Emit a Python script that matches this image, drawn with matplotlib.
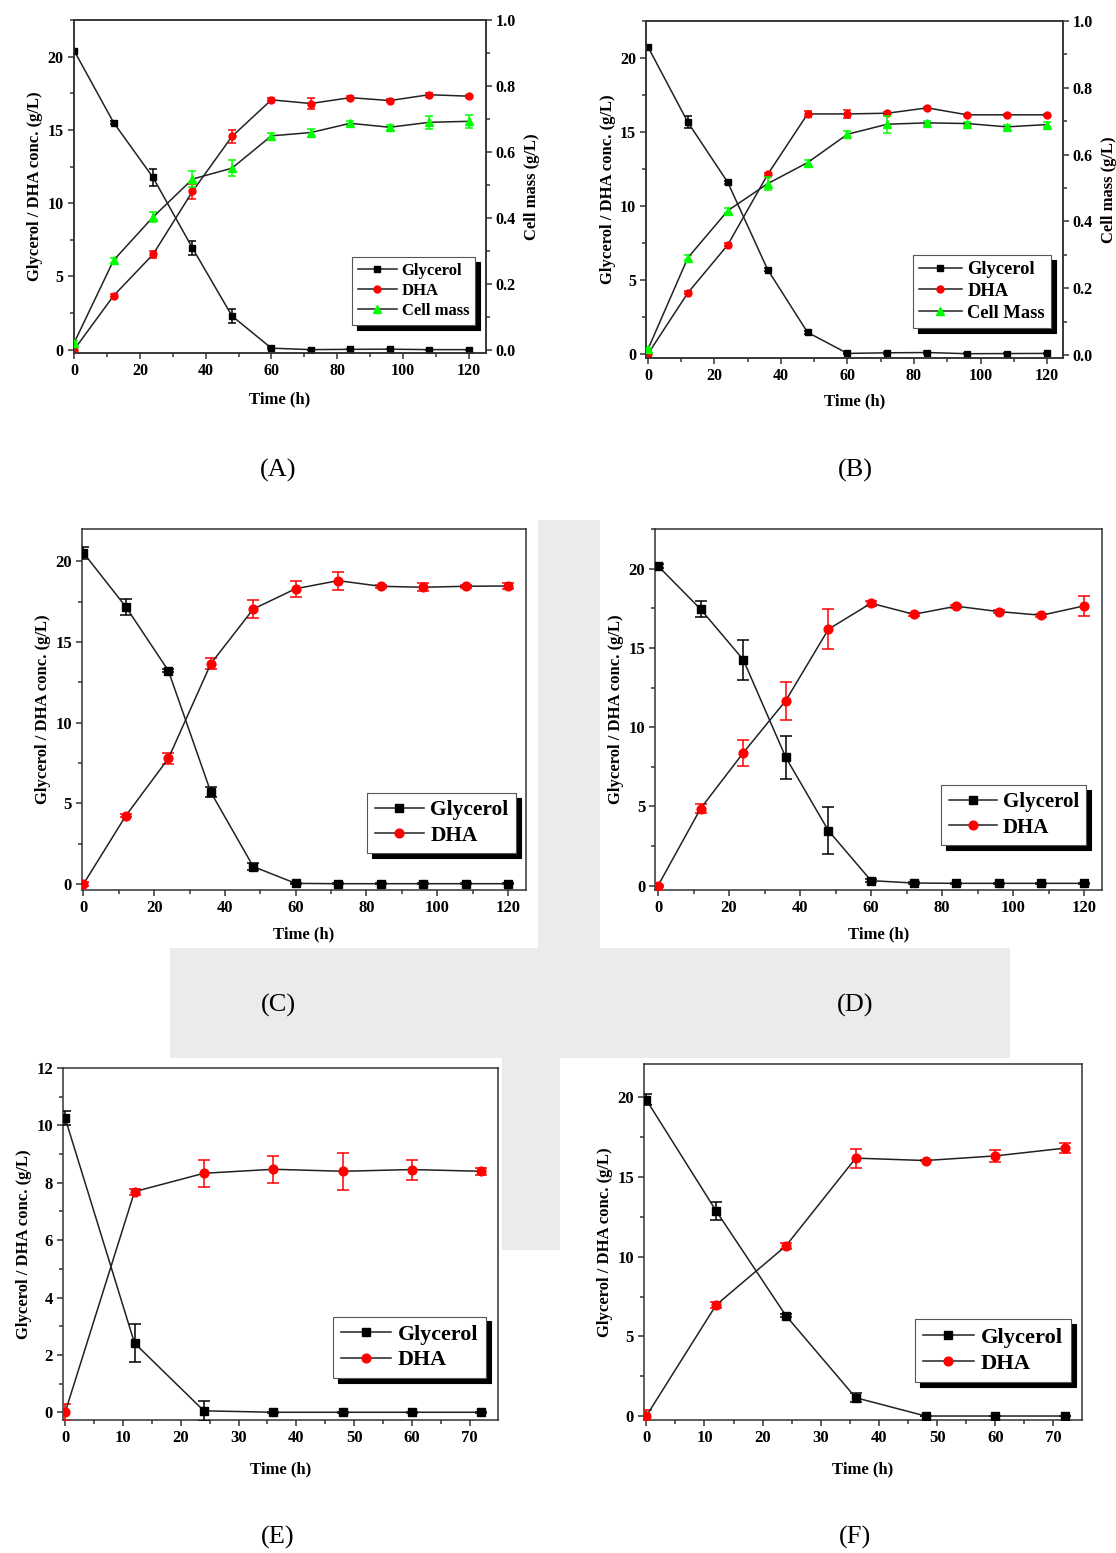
import numpy as np
import matplotlib
matplotlib.use('Agg')
import matplotlib.pyplot as plt
from matplotlib.ticker import MultipleLocator, FormatStrFormatter
from matplotlib.patches import Rectangle

plt.rcParams['font.family'] = ['Liberation Serif', 'DejaVu Serif']
plt.rcParams['font.weight'] = 'bold'
plt.rcParams['axes.labelweight'] = 'bold'

# time points
t_long = [0, 12, 24, 36, 48, 60, 72, 84, 96, 108, 120]
t_short = [0, 12, 24, 36, 48, 60, 72]

# (A)
a_gly = [20.4, 15.5, 11.75, 6.93, 2.3, 0.1, 0.0, 0.02, 0.03, 0.0, 0.0]
a_gly_err = [0.1, 0.1, 0.6, 0.5, 0.5, 0.05, 0, 0, 0, 0, 0]
a_dha = [0.0, 3.68, 6.5, 10.8, 14.55, 17.05, 16.8, 17.2, 17.0, 17.4, 17.3]
a_dha_err = [0.05, 0.1, 0.25, 0.5, 0.45, 0.1, 0.35, 0.1, 0.1, 0.15, 0.1]
a_cell = [0.022, 0.272, 0.403, 0.518, 0.551, 0.649, 0.659, 0.687, 0.675, 0.69, 0.693]
a_cell_err = [0.005, 0.008, 0.015, 0.025, 0.025, 0.008, 0.012, 0.006, 0.008, 0.02, 0.02]

# (B)
b_gly = [20.76, 15.66, 11.6, 5.7, 1.46, 0.04, 0.08, 0.1, 0.02, 0.03, 0.04]
b_gly_err = [0.15, 0.4, 0.1, 0.1, 0.1, 0.05, 0.05, 0.1, 0.02, 0.02, 0.02]
b_dha = [0.0, 4.13, 7.37, 12.13, 16.22, 16.22, 16.27, 16.63, 16.16, 16.16, 16.16]
b_dha_err = [0.05, 0.1, 0.1, 0.1, 0.2, 0.3, 0.1, 0.05, 0.05, 0.05, 0.05]
b_cell = [0.017, 0.291, 0.432, 0.513, 0.576, 0.661, 0.691, 0.695, 0.693, 0.683, 0.69]
b_cell_err = [0.005, 0.008, 0.008, 0.02, 0.008, 0.01, 0.025, 0.005, 0.005, 0.005, 0.008]

# (C)
c_gly = [20.52, 17.17, 13.22, 5.69, 1.08, 0.04, 0.02, 0.02, 0.02, 0.02, 0.02]
c_gly_err = [0.35, 0.5, 0.1, 0.3, 0.2, 0.05, 0.02, 0.02, 0.02, 0.02, 0.02]
c_dha = [0.0, 4.24, 7.78, 13.65, 17.04, 18.3, 18.8, 18.45, 18.39, 18.45, 18.47]
c_dha_err = [0.1, 0.1, 0.35, 0.35, 0.55, 0.5, 0.55, 0.1, 0.25, 0.1, 0.2]

# (D)
d_gly = [20.17, 17.44, 14.26, 8.09, 3.47, 0.32, 0.17, 0.15, 0.15, 0.15, 0.15]
d_gly_err = [0.1, 0.5, 1.27, 1.35, 1.5, 0.1, 0.05, 0.05, 0.05, 0.05, 0.05]
d_dha = [0.0, 4.87, 8.38, 11.68, 16.18, 17.82, 17.12, 17.63, 17.29, 17.06, 17.65]
d_dha_err = [0.05, 0.3, 0.8, 1.2, 1.25, 0.15, 0.1, 0.1, 0.1, 0.1, 0.65]

# (E)
e_gly = [10.25, 2.41, 0.05, 0.0, 0.0, 0.0, 0.0]
e_gly_err = [0.25, 0.65, 0.35, 0.02, 0.02, 0.02, 0.02]
e_dha = [0.0, 7.69, 8.33, 8.47, 8.4, 8.46, 8.4]
e_dha_err = [0.3, 0.1, 0.47, 0.47, 0.65, 0.35, 0.12]

# (F)
f_gly = [19.85, 12.88, 6.3, 1.15, 0.0, 0.0, 0.0]
f_gly_err = [0.35, 0.55, 0.1, 0.3, 0.02, 0.02, 0.02]
f_dha = [0.0, 6.97, 10.68, 16.19, 16.04, 16.33, 16.82]
f_dha_err = [0.4, 0.2, 0.2, 0.6, 0.05, 0.4, 0.3]

W, H = 1116, 1553
fig = plt.figure(figsize=(W / 100, H / 100), dpi=100)

LINE = '#222222'
RED = '#ff0000'
GREEN = '#00ff00'
SPINE = '#333333'
WMARK = '#ebebeb'


def px_rect(left, top, right, bottom):
    return [left / W, 1 - bottom / H, (right - left) / W, (bottom - top) / H]


# faint watermark blocks behind the panels
for l, t, r, b in [(538, 520, 600, 950), (170, 948, 1010, 1058),
                   (502, 1058, 560, 1250)]:
    x0, y0, w, h = px_rect(l, t, r, b)
    fig.patches.append(Rectangle((x0, y0), w, h, transform=fig.transFigure,
                                 facecolor=WMARK, edgecolor='none', zorder=-10))


def style_axis(ax, fs):
    for s in ax.spines.values():
        s.set_linewidth(1.1)
        s.set_color(SPINE)
    ax.tick_params(which='major', direction='out', length=4.5, width=1.1,
                   labelsize=fs, color=SPINE, pad=2.5)
    ax.tick_params(which='minor', direction='out', length=3, width=1.1, color=SPINE)
    ax.tick_params(top=False, right=False, which='both')


def series(ax, t, y, err, marker, color, ms, cap):
    ax.errorbar(t, y, yerr=err, fmt='none', ecolor=color, elinewidth=1.1,
                capsize=cap, capthick=1.1, zorder=3)
    line, = ax.plot(t, y, '-', color=LINE, lw=1.1, marker=marker, ms=ms,
                    mfc=color, mec=color, zorder=4)
    return line


def panel(box, t, gly, gly_err, dha, dha_err, xlim, ylim, xstep, ystep,
          fs, leg_fs, leg_pos, ms, cap, xpad, cell=None, cell_err=None,
          cell_label='Cell mass'):
    ax = fig.add_axes(px_rect(*box))
    ax.set_facecolor('white')
    style_axis(ax, fs)
    h1 = series(ax, t, gly, gly_err, 's', 'black', ms, cap)
    h2 = series(ax, t, dha, dha_err, 'o', RED, ms, cap)
    ax.set_xlim(*xlim)
    ax.set_ylim(*ylim)
    ax.xaxis.set_major_locator(MultipleLocator(xstep))
    ax.xaxis.set_minor_locator(MultipleLocator(xstep / 2))
    ax.yaxis.set_major_locator(MultipleLocator(ystep))
    ax.yaxis.set_minor_locator(MultipleLocator(ystep / 2))
    ax.set_xlabel('Time (h)', fontsize=12, labelpad=xpad)
    ax.set_ylabel('Glycerol / DHA conc. (g/L)', fontsize=12, labelpad=3)
    handles = [h1, h2]
    labels = ['Glycerol', 'DHA']
    leg_ax = ax
    if cell is not None:
        ax2 = ax.twinx()
        h3 = series(ax2, t, cell, cell_err, '^', GREEN, ms + 0.5, cap)
        ax2.set_ylim(-0.009, 1.0)
        ax2.yaxis.set_major_locator(MultipleLocator(0.2))
        ax2.yaxis.set_minor_locator(MultipleLocator(0.1))
        ax2.yaxis.set_major_formatter(FormatStrFormatter('%.1f'))
        for s in ax2.spines.values():
            s.set_linewidth(1.1)
            s.set_color(SPINE)
        ax2.tick_params(which='major', direction='out', length=4.5, width=1.1,
                        labelsize=fs, color=SPINE, pad=2.5)
        ax2.tick_params(which='minor', direction='out', length=3, width=1.1,
                        color=SPINE)
        ax2.set_ylabel('Cell mass (g/L)', fontsize=12, labelpad=6)
        handles.append(h3)
        labels.append(cell_label)
        leg_ax = ax2
    leg = leg_ax.legend(handles, labels, loc='lower right', bbox_to_anchor=leg_pos,
                        borderaxespad=0, fontsize=leg_fs, fancybox=False,
                        handlelength=2.3, handletextpad=0.3, borderpad=0.35,
                        labelspacing=0.25, framealpha=1,
                        shadow={'ox': 3.5, 'oy': -3.5, 'color': 'black', 'alpha': 1})
    leg.get_frame().set_edgecolor('#555555')
    leg.get_frame().set_linewidth(0.8)
    return ax


panel((73.5, 20, 485.7, 353), t_long, a_gly, a_gly_err, a_dha, a_dha_err,
      (-0.2, 125.2), (-0.23, 22.5), 20, 5, 11.5, 12, (0.974, 0.084), 5, 3, 9,
      cell=a_cell, cell_err=a_cell_err, cell_label='Cell mass')
panel((645.6, 21, 1063, 358), t_long, b_gly, b_gly_err, b_dha, b_dha_err,
      (-0.7, 124.8), (-0.27, 22.5), 20, 5, 11.5, 13.3, (0.972, 0.089), 5, 3, 7,
      cell=b_cell, cell_err=b_cell_err, cell_label='Cell Mass')
panel((81.7, 529, 526, 890), t_long, c_gly, c_gly_err, c_dha, c_dha_err,
      (-0.5, 125.1), (-0.37, 22), 20, 5, 12, 15.4, (0.978, 0.102), 6.3, 4, 8)
panel((655, 529, 1101.5, 890), t_long, d_gly, d_gly_err, d_dha, d_dha_err,
      (-0.85, 124.9), (-0.27, 22.5), 20, 5, 12, 15, (0.966, 0.125), 6.3, 4, 8)
panel((62.7, 1068, 498, 1420), t_short, e_gly, e_gly_err, e_dha, e_dha_err,
      (-0.43, 74.9), (-0.27, 12), 10, 2, 12, 15.8, (0.973, 0.119), 6.3, 4, 11)
panel((643.8, 1064, 1082, 1420), t_short, f_gly, f_gly_err, f_dha, f_dha_err,
      (-0.43, 74.9), (-0.25, 22.1), 10, 5, 12, 16.2, (0.975, 0.107), 6.3, 4, 11)

# panel letters
letters = ['(A)', '(B)', '(C)', '(D)', '(E)', '(F)']
letter_pos = [(278, 470), (855, 470), (278, 1005), (855, 1005), (278, 1537), (855, 1537)]
for txt, (px, py) in zip(letters, letter_pos):
    fig.text(px / W, 1 - py / H, txt, ha='center', va='center', fontsize=19,
             fontweight='normal')

fig.savefig('out.png', dpi=100)
